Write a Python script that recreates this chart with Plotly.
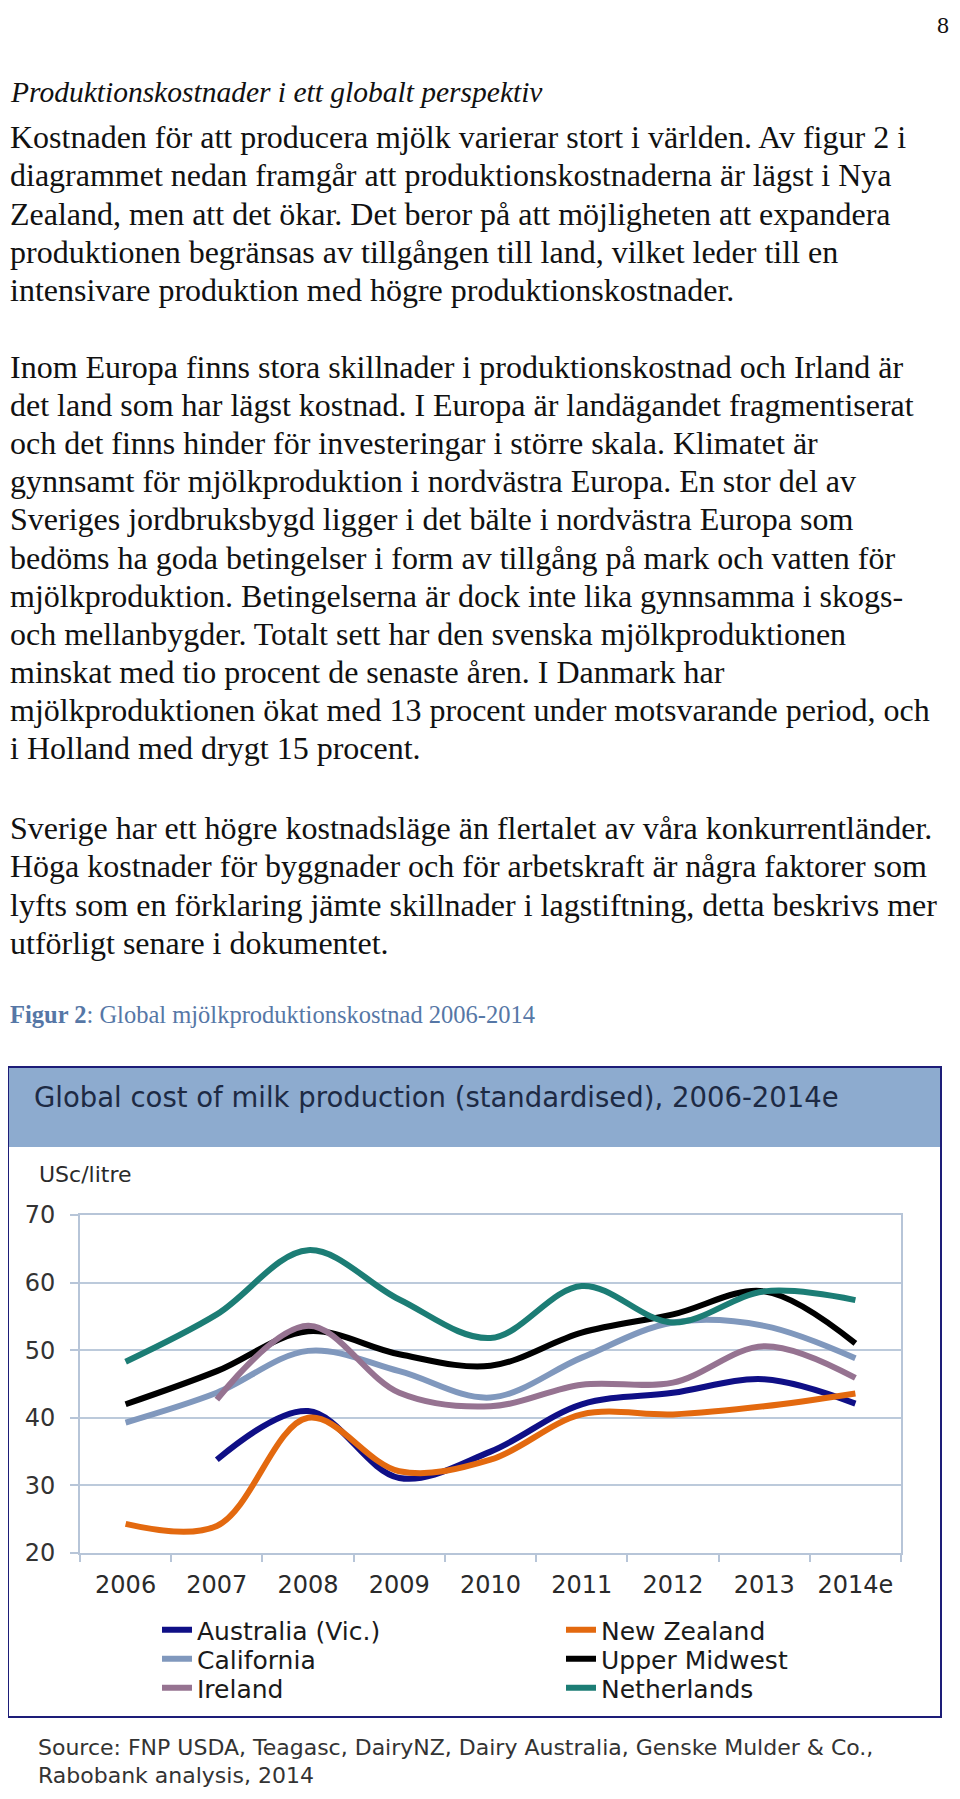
import plotly.graph_objects as go

# ---------------- data ----------------
years = ["2006", "2007", "2008", "2009", "2010", "2011", "2012", "2013", "2014e"]
australia = [None, 33.8, 41.0, 31.1, 35.0, 42.0, 43.7, 45.7, 42.1]
new_zealand = [24.3, 24.0, 40.0, 32.1, 33.8, 40.5, 40.5, 41.7, 43.6]
california = [39.3, 43.7, 49.9, 46.9, 43.0, 48.9, 54.1, 53.6, 48.8]
upper_midwest = [42.0, 46.9, 52.8, 49.4, 47.7, 52.6, 55.3, 58.7, 51.0]
ireland = [None, 42.7, 53.6, 43.7, 41.7, 44.9, 45.2, 50.6, 45.9]
netherlands = [48.3, 55.3, 64.8, 57.5, 51.8, 59.5, 54.1, 58.7, 57.4]

series_names = ["Australia (Vic.)", "New Zealand", "California", "Upper Midwest", "Ireland", "Netherlands"]
series_values = [australia, new_zealand, california, upper_midwest, ireland, netherlands]
series_colors = ["#0f0f86", "#e3690f", "#8098bd", "#000000", "#967391", "#1c7d75"]

y_ticks = [20, 30, 40, 50, 60, 70]

chart_title = "Global cost of milk production (standardised), 2006-2014e"
unit_label = "USc/litre"
source_lines = [
    "Source: FNP USDA, Teagasc, DairyNZ, Dairy Australia, Genske Mulder & Co.,",
    "Rabobank analysis, 2014",
]
heading = "Produktionskostnader i ett globalt perspektiv"
para1 = [
    "Kostnaden för att producera mjölk varierar stort i världen. Av figur 2 i",
    "diagrammet nedan framgår att produktionskostnaderna är lägst i Nya",
    "Zealand, men att det ökar. Det beror på att möjligheten att expandera",
    "produktionen begränsas av tillgången till land, vilket leder till en",
    "intensivare produktion med högre produktionskostnader.",
]
para2 = [
    "Inom Europa finns stora skillnader i produktionskostnad och Irland är",
    "det land som har lägst kostnad. I Europa är landägandet fragmentiserat",
    "och det finns hinder för investeringar i större skala. Klimatet är",
    "gynnsamt för mjölkproduktion i nordvästra Europa. En stor del av",
    "Sveriges jordbruksbygd ligger i det bälte i nordvästra Europa som",
    "bedöms ha goda betingelser i form av tillgång på mark och vatten för",
    "mjölkproduktion. Betingelserna är dock inte lika gynnsamma i skogs-",
    "och mellanbygder. Totalt sett har den svenska mjölkproduktionen",
    "minskat med tio procent de senaste åren. I Danmark har",
    "mjölkproduktionen ökat med 13 procent under motsvarande period, och",
    "i Holland med drygt 15 procent.",
]
para3 = [
    "Sverige har ett högre kostnadsläge än flertalet av våra konkurrentländer.",
    "Höga kostnader för byggnader och för arbetskraft är några faktorer som",
    "lyfts som en förklaring jämte skillnader i lagstiftning, detta beskrivs mer",
    "utförligt senare i dokumentet.",
]
caption_bold = "Figur 2"
caption_rest = ": Global mjölkproduktionskostnad 2006-2014"
page_number = "8"

# ---------------- layout helpers ----------------
PAGE_MARGIN = 8            # default <body> margin of the html page
W, H = 960 - 2 * PAGE_MARGIN, 1799 - 2 * PAGE_MARGIN


def py(pix):
    """page pixel row (from top) -> paper y"""
    return 1 - (pix - PAGE_MARGIN) / H


def px(pix):
    """page pixel column -> paper x"""
    return (pix - PAGE_MARGIN) / W


SERIF = "Liberation Serif"
SANS = "DejaVu Sans"

# legend slot for each series: (legend id, x of text start, row center)
legend_slots = [
    ("legend", 202, 1630), ("legend2", 606, 1630),
    ("legend3", 202, 1659), ("legend4", 606, 1659),
    ("legend5", 202, 1688), ("legend6", 606, 1688),
]

fig = go.Figure()
for (name, vals, col), slot in zip(zip(series_names, series_values, series_colors), legend_slots):
    fig.add_trace(go.Scatter(
        x=years, y=vals, name=name, mode="lines",
        line=dict(color=col, width=6, shape="spline", smoothing=1.0),
        connectgaps=False, legend=slot[0],
    ))

annotations = []


def text(x, y, s, size, font=SERIF, color="#111111", anchor="left"):
    annotations.append(dict(
        x=px(x), y=py(y), xref="paper", yref="paper", text=s, showarrow=False,
        xanchor=anchor, yanchor="middle",
        font=dict(family=font, size=size, color=color),
    ))


body_size = 32
text_left = 8
text(951, 25, page_number, 24, anchor="right")
text(text_left, 92, "<i>" + heading + "</i>", 29.5)
for i, line in enumerate(para1):
    text(text_left, 137 + 38.3 * i, line, body_size)
for i, line in enumerate(para2):
    text(text_left, 367 + 38.1 * i, line, body_size)
for i, line in enumerate(para3):
    text(text_left, 828 + 38.3 * i, line, body_size)
text(text_left, 1015, "<b>" + caption_bold + "</b>" + caption_rest, 24.5, color="#5677a6")

text(32, 1097, chart_title, 27.5, font=SANS, color="#1d2a44")
text(37, 1174, unit_label, 22, font=SANS, color="#2a2a2a")
for i, line in enumerate(source_lines):
    text(36, 1747 + 28 * i, line, 22, font=SANS, color="#333333")

shapes = [
    # chart box
    dict(type="rect", xref="paper", yref="paper", x0=px(8), x1=px(941), y0=py(1717), y1=py(1067),
         line=dict(color="#1d1d78", width=2), fillcolor="rgba(0,0,0,0)", layer="below"),
    # header band
    dict(type="rect", xref="paper", yref="paper", x0=px(9), x1=px(940), y0=py(1147), y1=py(1068),
         line=dict(width=0), fillcolor="#8dabcf", layer="below"),
]

legend_style = dict(
    xanchor="left", yanchor="middle",
    font=dict(family=SANS, size=25, color="#1a1a1a"),
    bgcolor="rgba(0,0,0,0)", borderwidth=0,
)
legends = {}
for lid, tx, ty in legend_slots:
    legends[lid] = dict(x=px(tx - 45), y=py(ty), **legend_style)

fig.update_layout(
    width=W, height=H,
    margin=dict(l=0, r=0, t=0, b=0, autoexpand=False),
    paper_bgcolor="white", plot_bgcolor="white",
    showlegend=True,
    xaxis=dict(
        domain=[px(80), px(901)], type="category", range=[-0.5, 8.5],
        showline=True, linecolor="#b7c5d8", linewidth=2, mirror=True,
        ticks="outside", tickson="boundaries", ticklen=7, tickcolor="#b7c5d8", tickwidth=2,
        showgrid=False, zeroline=False,
        tickfont=dict(family=SANS, size=24, color="#2a2a2a"),
        ticklabelstandoff=9,
    ),
    yaxis=dict(
        domain=[py(1553), py(1215)], range=[20, 70], tickvals=y_ticks,
        showline=True, linecolor="#b7c5d8", linewidth=2, mirror=True,
        ticks="outside", ticklen=8, tickcolor="#b7c5d8", tickwidth=2,
        showgrid=True, gridcolor="#bccadb", gridwidth=2, zeroline=False,
        tickfont=dict(family=SANS, size=24, color="#333333"),
        ticklabelstandoff=10,
    ),
    annotations=annotations,
    shapes=shapes,
    **legends,
)

fig.write_html("out.html")
